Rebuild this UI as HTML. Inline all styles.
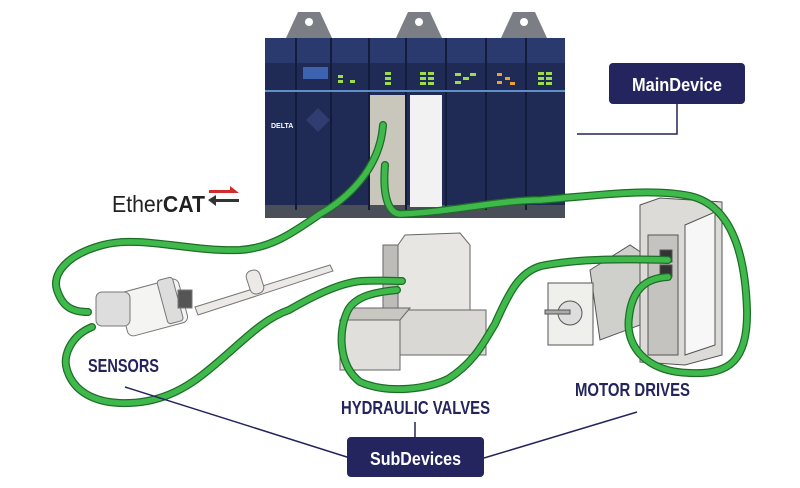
<!DOCTYPE html>
<html><head><meta charset="utf-8"><style>
html,body{margin:0;padding:0;background:#fff;}
svg{display:block;}
.lbl{font-family:"Liberation Sans Narrow","Liberation Sans",sans-serif;font-weight:bold;fill:#23245c;}
</style></head><body>
<svg width="800" height="488" viewBox="0 0 800 488" xmlns="http://www.w3.org/2000/svg">
<!-- PLC rack -->
<g>
 <polygon points="286,38 298,12 320,12 332,38" fill="#7b7e84"/>
 <polygon points="396,38 408,12 430,12 442,38" fill="#7b7e84"/>
 <polygon points="501,38 513,12 535,12 547,38" fill="#7b7e84"/>
 <circle cx="309" cy="22" r="4" fill="#fff"/><circle cx="419" cy="22" r="4" fill="#fff"/><circle cx="524" cy="22" r="4" fill="#fff"/>
 <rect x="265" y="38" width="300" height="172" fill="#1f2a55"/>
 <rect x="265" y="38" width="300" height="25" fill="#2a3a6e"/>
 <rect x="265" y="205" width="300" height="13" fill="#4a4e58"/>
 <g fill="#141c3e">
  <rect x="295" y="38" width="2" height="172"/><rect x="330" y="38" width="2" height="172"/>
  <rect x="368" y="38" width="2" height="172"/><rect x="405" y="38" width="2" height="172"/>
  <rect x="445" y="38" width="2" height="172"/><rect x="485" y="38" width="2" height="172"/>
  <rect x="525" y="38" width="2" height="172"/>
 </g>
 <rect x="265" y="90" width="300" height="2" fill="#5f8fc8"/>
 <rect x="370" y="95" width="35" height="110" fill="#c9c6bc"/>
 <rect x="410" y="95" width="32" height="112" fill="#f2f2f2"/>
 <rect x="303" y="67" width="25" height="12" fill="#3d63b0"/>
 <polygon points="318,108 330,120 318,132 306,120" fill="#2f3d70"/>
 <text x="271" y="128" font-family="Liberation Sans" font-size="7" fill="#fff" font-weight="bold">DELTA</text>
 <g fill="#9ddc4a">
  <rect x="338" y="75" width="5" height="3"/><rect x="338" y="80" width="5" height="3"/><rect x="350" y="80" width="5" height="3"/>
  <rect x="385" y="72" width="6" height="3"/><rect x="385" y="77" width="6" height="3"/><rect x="385" y="82" width="6" height="3"/>
  <rect x="420" y="72" width="6" height="3"/><rect x="428" y="72" width="6" height="3"/><rect x="420" y="77" width="6" height="3"/><rect x="428" y="77" width="6" height="3"/><rect x="420" y="82" width="6" height="3"/><rect x="428" y="82" width="6" height="3"/>
  <rect x="455" y="73" width="6" height="3"/><rect x="463" y="77" width="6" height="3"/><rect x="455" y="81" width="6" height="3"/><rect x="470" y="73" width="6" height="3"/>
  <rect x="538" y="72" width="6" height="3"/><rect x="546" y="72" width="6" height="3"/><rect x="538" y="77" width="6" height="3"/><rect x="546" y="77" width="6" height="3"/><rect x="538" y="82" width="6" height="3"/><rect x="546" y="82" width="6" height="3"/>
 </g>
 <g fill="#f0a030"><rect x="497" y="73" width="5" height="3"/><rect x="505" y="77" width="5" height="3"/><rect x="497" y="81" width="5" height="3"/><rect x="510" y="82" width="5" height="3"/></g>
</g>
<!-- EtherCAT -->
<text x="112" y="212" font-family="Liberation Sans" font-size="23" fill="#222" textLength="93" lengthAdjust="spacingAndGlyphs">Ether<tspan font-weight="bold">CAT</tspan></text>
<polygon points="209,190 230,190 230,186 239,193 209,193" fill="#d32a2a"/>
<polygon points="216,199 239,199 239,202 216,202 216,206 208,200 216,195" fill="#333"/>
<!-- Sensor -->
<g stroke="#777" stroke-width="1" fill="#eceae6">
 <polygon points="195,307 330,265 333,271 198,315"/>
 <rect x="248" y="270" width="14" height="24" rx="6" transform="rotate(-18 255 282)"/>
 <rect x="122" y="285" width="62" height="45" rx="6" transform="rotate(-15 153 307)" fill="#f4f4f2"/>
 <rect x="162" y="278" width="16" height="45" rx="3" transform="rotate(-15 170 300)" fill="#ddd"/>
 <rect x="178" y="290" width="14" height="18" fill="#555"/>
 <rect x="96" y="292" width="34" height="34" rx="6" fill="#ddd"/>
</g>
<!-- Valve -->
<g stroke="#666" stroke-width="1">
 <polygon points="398,245 405,235 460,233 470,245 470,315 398,320" fill="#e7e6e3"/>
 <polygon points="383,245 398,245 398,320 383,318" fill="#bdbcb8"/>
 <rect x="396" y="310" width="90" height="45" fill="#d9d8d4"/>
 <rect x="340" y="320" width="60" height="50" fill="#e0dfdb"/>
 <polygon points="340,320 350,308 410,308 400,320" fill="#c8c7c2"/>
</g>
<!-- Motor -->
<g stroke="#555" stroke-width="1">
 <polygon points="590,270 630,245 645,255 640,325 600,340" fill="#cfcfcc"/>
 <rect x="548" y="283" width="45" height="62" fill="#efefec"/>
 <circle cx="570" cy="313" r="12" fill="#ddd"/>
 <rect x="545" y="310" width="25" height="4" fill="#aaa"/>
</g>
<!-- Drive -->
<g stroke="#555" stroke-width="1">
 <polygon points="640,205 660,198 722,202 722,355 685,365 640,362" fill="#dcdbd8"/>
 <polygon points="685,225 715,212 715,345 685,355" fill="#f7f7f7"/>
 <rect x="648" y="235" width="30" height="120" fill="#c4c3bf"/>
 <rect x="660" y="250" width="12" height="12" fill="#333"/><rect x="660" y="265" width="12" height="12" fill="#333"/>
</g>
<!-- Cables -->
<g fill="none" stroke-linecap="round">
 <g stroke="#1e6d26" stroke-width="8">
  <path d="M383,125 C380,170 345,200 320,214 C290,235 270,248 240,250 C190,252 140,235 103,245 C65,255 52,275 57,290 C62,305 70,312 88,312"/>
  <path d="M385,165 C382,200 390,215 402,214 C450,212 500,200 541,200 C600,195 650,188 690,196 C730,205 745,250 747,310 C748,360 730,375 690,373 C645,372 625,345 629,317 C632,290 645,278 668,277"/>
  <path d="M92,327 C72,335 62,355 67,370 C75,395 100,404 129,403 C165,402 190,385 206,372 C240,345 260,320 289,310 C315,295 340,283 361,281 C380,280 395,281 402,281"/>
  <path d="M397,290 C375,292 356,296 348,310 C338,330 338,365 360,382 C390,395 430,388 448,379 C475,362 485,340 495,324 C510,290 520,272 541,266 C580,258 630,259 668,260"/>
 </g>
 <g stroke="#3fb94c" stroke-width="5.5">
  <path d="M383,125 C380,170 345,200 320,214 C290,235 270,248 240,250 C190,252 140,235 103,245 C65,255 52,275 57,290 C62,305 70,312 88,312"/>
  <path d="M385,165 C382,200 390,215 402,214 C450,212 500,200 541,200 C600,195 650,188 690,196 C730,205 745,250 747,310 C748,360 730,375 690,373 C645,372 625,345 629,317 C632,290 645,278 668,277"/>
  <path d="M92,327 C72,335 62,355 67,370 C75,395 100,404 129,403 C165,402 190,385 206,372 C240,345 260,320 289,310 C315,295 340,283 361,281 C380,280 395,281 402,281"/>
  <path d="M397,290 C375,292 356,296 348,310 C338,330 338,365 360,382 C390,395 430,388 448,379 C475,362 485,340 495,324 C510,290 520,272 541,266 C580,258 630,259 668,260"/>
 </g>
</g>
<!-- Connectors -->
<g stroke="#23245c" stroke-width="1.5" fill="none">
 <path d="M677,104 L677,134 L577,134"/>
 <path d="M125,387 L350,458"/>
 <path d="M415,422 L415,437"/>
 <path d="M637,412 L484,458"/>
</g>
<rect x="609" y="63" width="136" height="41" rx="4" fill="#24255f"/>
<text x="632" y="91" class="lbl" style="fill:#fff" font-size="18" textLength="90" lengthAdjust="spacingAndGlyphs">MainDevice</text>
<rect x="347" y="437" width="137" height="40" rx="4" fill="#24255f"/>
<text x="370" y="465" class="lbl" style="fill:#fff" font-size="18" textLength="91" lengthAdjust="spacingAndGlyphs">SubDevices</text>
<text x="88" y="372" class="lbl" font-size="18" textLength="71" lengthAdjust="spacingAndGlyphs">SENSORS</text>
<text x="341" y="414" class="lbl" font-size="18" textLength="149" lengthAdjust="spacingAndGlyphs">HYDRAULIC VALVES</text>
<text x="575" y="396" class="lbl" font-size="18" textLength="115" lengthAdjust="spacingAndGlyphs">MOTOR DRIVES</text>
</svg>
</body></html>
